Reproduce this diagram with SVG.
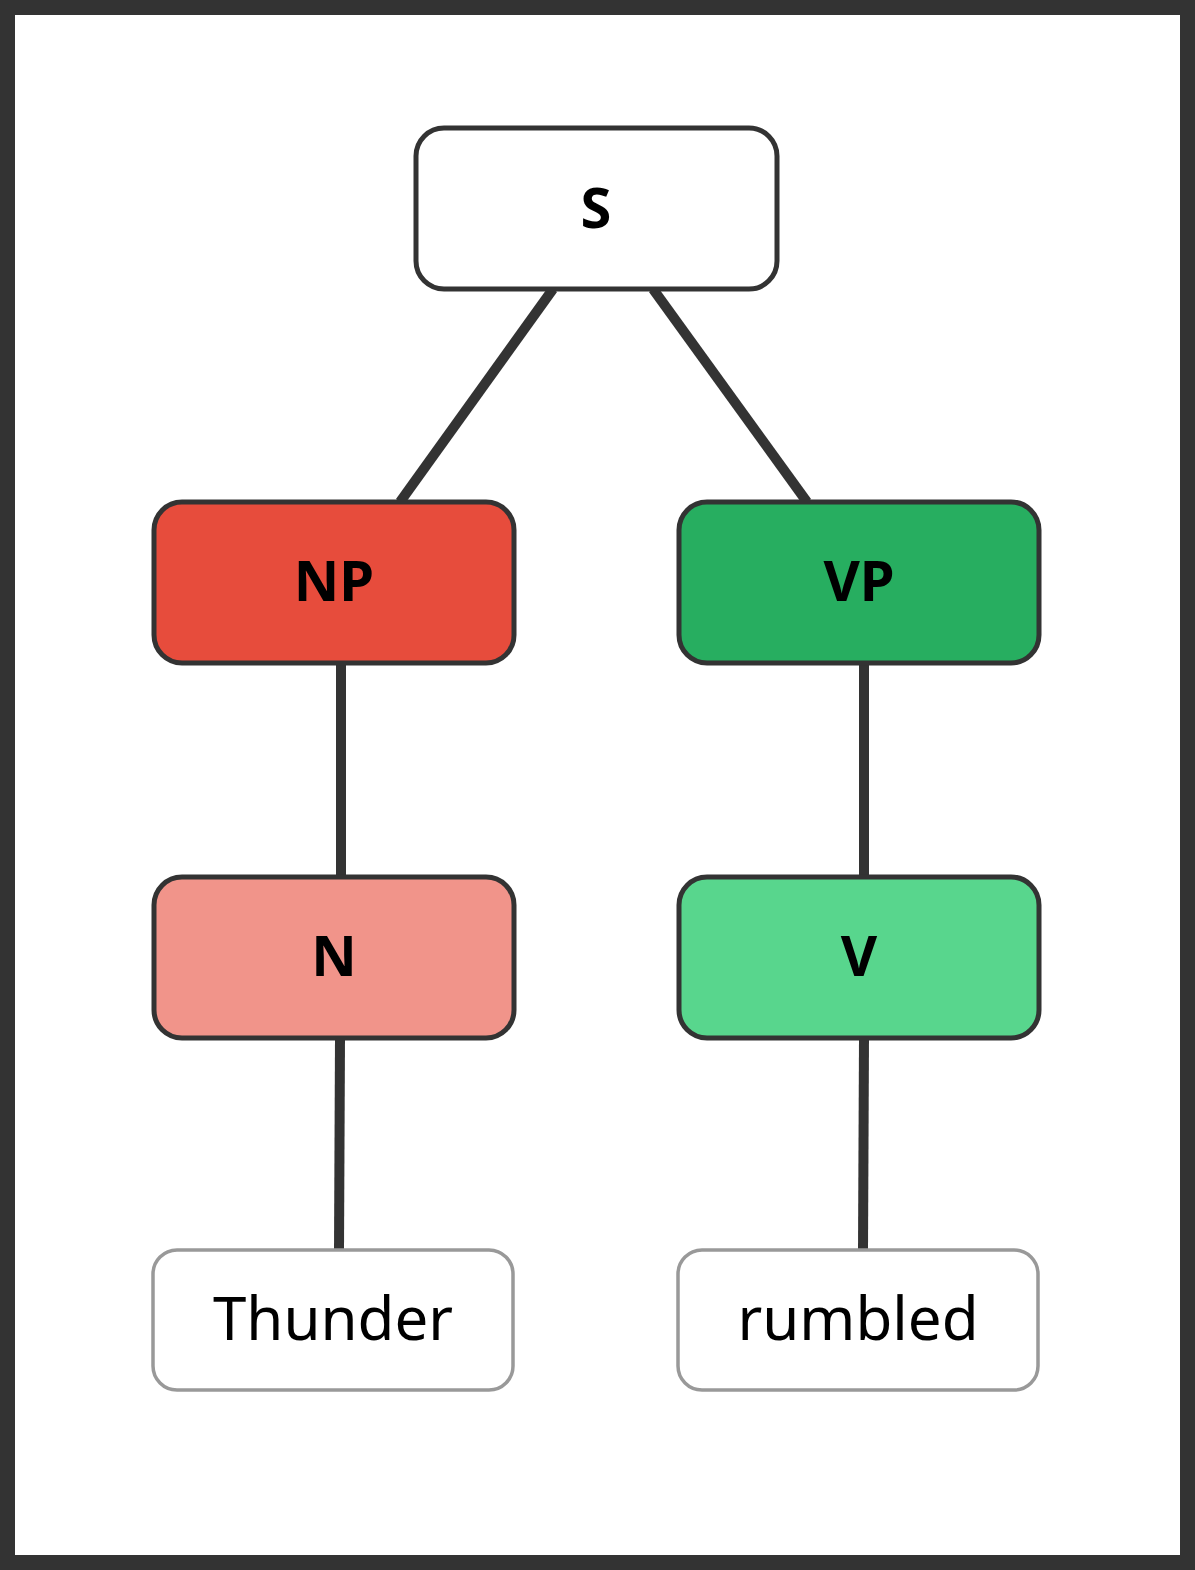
<svg xmlns="http://www.w3.org/2000/svg" width="1195" height="1570" viewBox="0 0 1195 1570">
<style>
.n{stroke:#333;stroke-width:5}
.l{stroke:#999;stroke-width:3.5;fill:#fff}
.t{font-family:"Noto Sans","Open Sans",sans-serif;font-weight:bold;font-size:56px;text-anchor:middle;fill:#000}
.w{font-family:"Noto Sans","Open Sans",sans-serif;font-size:60px;text-anchor:middle;fill:#000}
#edges line{stroke:#333;stroke-width:10}
</style>
<rect x="7.5" y="7.5" width="1180" height="1555" fill="#fff" stroke="#333" stroke-width="15"/>
<g id="edges">
<line x1="553" y1="289" x2="400" y2="502"/>
<line x1="653" y1="289" x2="807" y2="502"/>
<line x1="341" y1="663" x2="341" y2="877"/>
<line x1="864" y1="663" x2="864" y2="877"/>
<line x1="340" y1="1038" x2="339" y2="1250"/>
<line x1="864" y1="1038" x2="863" y2="1250"/>
</g>
<g id="S"><rect class="n" x="416" y="128" width="361" height="161" rx="28" fill="#fff"/><text class="t" x="596" y="228">S</text></g>
<g id="NP"><rect class="n" x="154" y="502" width="360" height="161" rx="28" fill="#e74c3c"/><text class="t" x="334" y="601">NP</text></g>
<g id="VP"><rect class="n" x="679" y="502" width="360" height="161" rx="28" fill="#27ae60"/><text class="t" x="859" y="601">VP</text></g>
<g id="N"><rect class="n" x="154" y="877" width="360" height="161" rx="28" fill="#f1948a"/><text class="t" x="334" y="976">N</text></g>
<g id="V"><rect class="n" x="679" y="877" width="360" height="161" rx="28" fill="#58d68d"/><text class="t" x="859" y="976">V</text></g>
<g id="Thunder"><rect class="l" x="153" y="1250" width="360" height="140" rx="24"/><text class="w" x="333" y="1340">Thunder</text></g>
<g id="rumbled"><rect class="l" x="678" y="1250" width="360" height="140" rx="24"/><text class="w" x="858" y="1340">rumbled</text></g>
</svg>
